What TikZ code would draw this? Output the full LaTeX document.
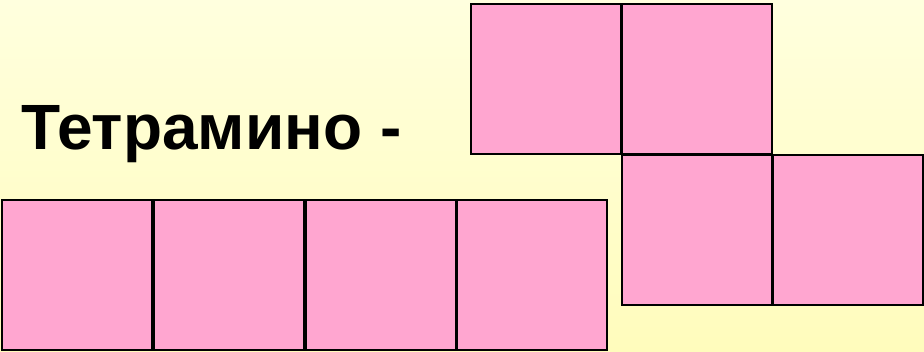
\documentclass[tikz,border=0pt]{standalone}
\usepackage{fontspec}
\setmainfont{Liberation Sans}
\usetikzlibrary{positioning}
\definecolor{bgtop}{RGB}{255,255,222}
\definecolor{bgbot}{RGB}{255,252,188}
\definecolor{cellpink}{RGB}{255,166,208}

\begin{document}
\begin{tikzpicture}[x=1pt,y=-1pt,
  cell/.style={draw,line width=2.4pt,fill=cellpink,minimum size=150pt,inner sep=0pt}]
\shade[top color=bgtop,bottom color=bgbot] (0,0) rectangle (924,352);
\useasboundingbox (0,0) rectangle (924,352);
\node[anchor=base west,font=\bfseries\fontsize{64}{70}\selectfont,inner sep=0pt] (title) at (21,150) {Тетрамино -};
\node[cell] (i1) at (77,275) {};
\node[cell] (i2) at (229,275) {};
\node[cell] (i3) at (381,275) {};
\node[cell] (i4) at (532,275) {};
\node[cell] (s1) at (546,79) {};
\node[cell] (s2) at (697,79) {};
\node[cell] (s3) at (697,230) {};
\node[cell] (s4) at (848,230) {};
\end{tikzpicture}
\end{document}
